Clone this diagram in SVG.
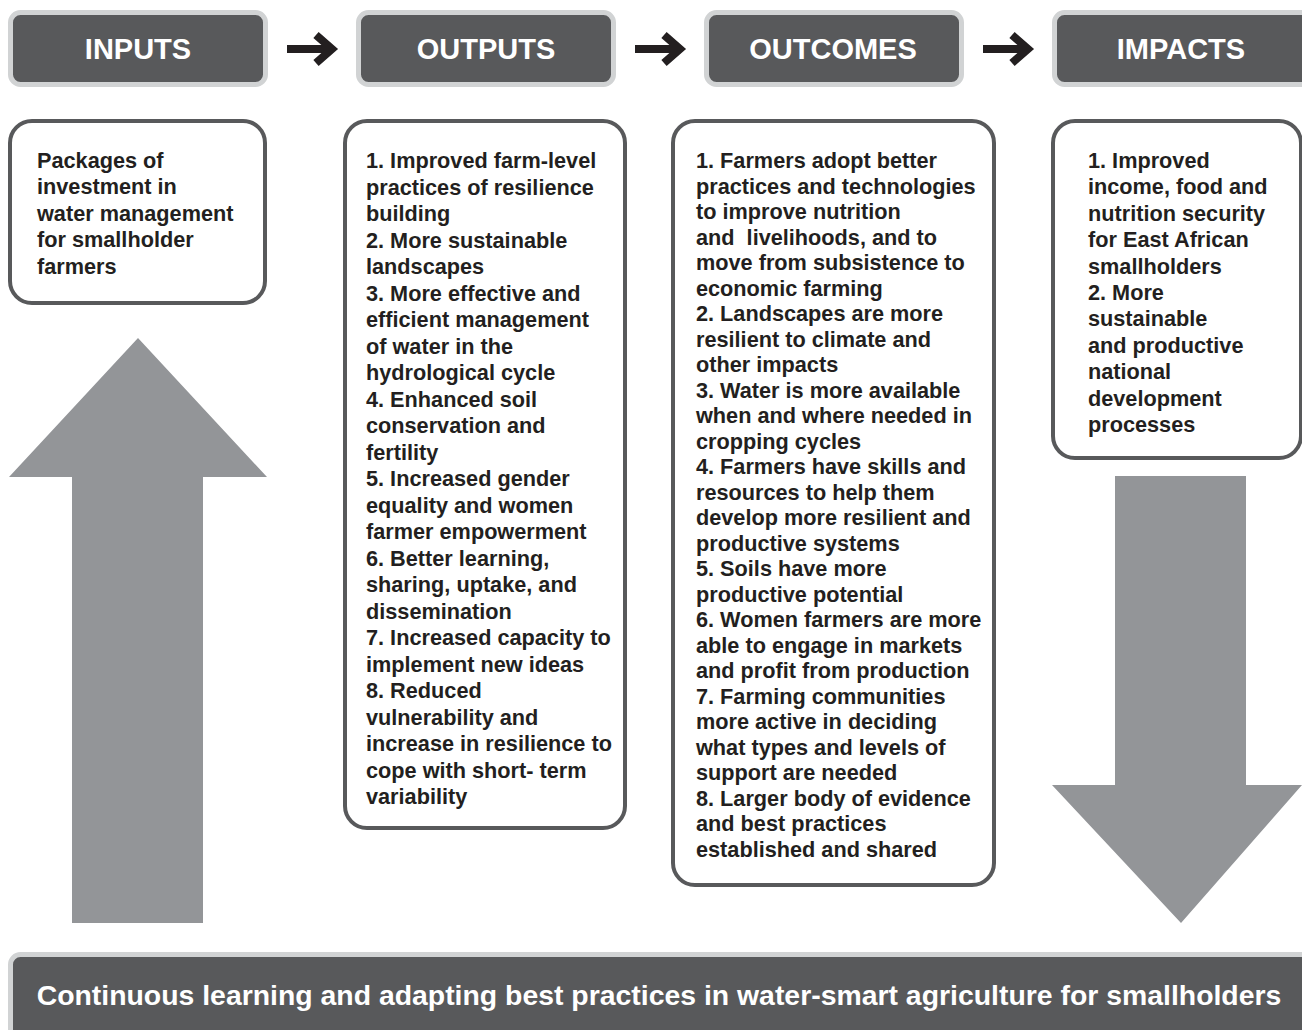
<svg xmlns="http://www.w3.org/2000/svg" width="1302" height="1030" viewBox="0 0 1302 1030">
<style>
.hdr{fill:#58595b;stroke:#d1d3d4;stroke-width:5}
.hdrtxt{font-family:"Liberation Sans",Arial,sans-serif;font-weight:bold;font-size:29px;fill:#ffffff;text-anchor:middle}
.box{fill:#ffffff;stroke:#58595b;stroke-width:4}
.body{font-family:"Liberation Sans",Arial,sans-serif;font-weight:bold;font-size:21.7px;fill:#231f20}
.big{fill:#939598}
.conn{fill:none;stroke:#231f20;stroke-width:8}
.foot{font-family:"Liberation Sans",Arial,sans-serif;font-weight:bold;font-size:28.4px;fill:#ffffff;text-anchor:middle}
</style>
<rect width="1302" height="1030" fill="#ffffff"/>
<g id="hdr-inputs">
<rect class="hdr" x="10.5" y="12.5" width="255" height="72" rx="10"/>
<text class="hdrtxt" x="138" y="58.5">INPUTS</text>
</g>
<g id="hdr-outputs">
<rect class="hdr" x="358.5" y="12.5" width="255" height="72" rx="10"/>
<text class="hdrtxt" x="486" y="58.5">OUTPUTS</text>
</g>
<g id="hdr-outcomes">
<rect class="hdr" x="706.5" y="12.5" width="255" height="72" rx="10"/>
<text class="hdrtxt" x="833" y="58.5">OUTCOMES</text>
</g>
<g id="hdr-impacts">
<rect class="hdr" x="1054.5" y="12.5" width="260" height="72" rx="10"/>
<text class="hdrtxt" x="1181" y="58.5">IMPACTS</text>
</g>
<g id="connectors">
<g class="conn">
<path d="M287,49 H329 M316,35 L332,49 L316,63"/>
<path d="M635,49 H677 M664,35 L680,49 L664,63"/>
<path d="M983,49 H1025 M1012,35 L1028,49 L1012,63"/>
</g>
<polygon class="big" points="138,338 267,477 203,477 203,923 72,923 72,477 9,477"/>
<polygon class="big" points="1115,476 1246,476 1246,785 1302,785 1181,923 1052,785 1115,785"/>
</g>
<g id="box-inputs">
<rect class="box" x="10" y="121" width="255" height="182" rx="22"/>
<text class="body">
<tspan x="37" y="168">Packages of</tspan>
<tspan x="37" y="194.4">investment in</tspan>
<tspan x="37" y="220.8">water management</tspan>
<tspan x="37" y="247.2">for smallholder</tspan>
<tspan x="37" y="273.6">farmers</tspan>
</text>
</g>
<g id="box-outputs">
<rect class="box" x="345" y="121" width="280" height="707" rx="22"/>
<text class="body">
<tspan x="366" y="168">1. Improved farm-level</tspan>
<tspan x="366" y="194.5">practices of resilience</tspan>
<tspan x="366" y="221">building</tspan>
<tspan x="366" y="247.5">2. More sustainable</tspan>
<tspan x="366" y="274">landscapes</tspan>
<tspan x="366" y="300.5">3. More effective and</tspan>
<tspan x="366" y="327">efficient management</tspan>
<tspan x="366" y="353.5">of water in the</tspan>
<tspan x="366" y="380">hydrological cycle</tspan>
<tspan x="366" y="406.5">4. Enhanced soil</tspan>
<tspan x="366" y="433">conservation and</tspan>
<tspan x="366" y="459.5">fertility</tspan>
<tspan x="366" y="486">5. Increased gender</tspan>
<tspan x="366" y="512.5">equality and women</tspan>
<tspan x="366" y="539">farmer empowerment</tspan>
<tspan x="366" y="565.5">6. Better learning,</tspan>
<tspan x="366" y="592">sharing, uptake, and</tspan>
<tspan x="366" y="618.5">dissemination</tspan>
<tspan x="366" y="645">7. Increased capacity to</tspan>
<tspan x="366" y="671.5">implement new ideas</tspan>
<tspan x="366" y="698">8. Reduced</tspan>
<tspan x="366" y="724.5">vulnerability and</tspan>
<tspan x="366" y="751">increase in resilience to</tspan>
<tspan x="366" y="777.5">cope with short- term</tspan>
<tspan x="366" y="804">variability</tspan>
</text>
</g>
<g id="box-outcomes">
<rect class="box" x="673" y="121" width="321" height="764" rx="22"/>
<text class="body" xml:space="preserve"><tspan x="696" y="168">1. Farmers adopt better</tspan><tspan x="696" y="193.5">practices and technologies</tspan><tspan x="696" y="219">to improve nutrition</tspan><tspan x="696" y="244.5">and  livelihoods, and to</tspan><tspan x="696" y="270">move from subsistence to</tspan><tspan x="696" y="295.5">economic farming</tspan><tspan x="696" y="321">2. Landscapes are more</tspan><tspan x="696" y="346.5">resilient to climate and</tspan><tspan x="696" y="372">other impacts</tspan><tspan x="696" y="397.5">3. Water is more available</tspan><tspan x="696" y="423">when and where needed in</tspan><tspan x="696" y="448.5">cropping cycles</tspan><tspan x="696" y="474">4. Farmers have skills and</tspan><tspan x="696" y="499.5">resources to help them</tspan><tspan x="696" y="525">develop more resilient and</tspan><tspan x="696" y="550.5">productive systems</tspan><tspan x="696" y="576">5. Soils have more</tspan><tspan x="696" y="601.5">productive potential</tspan><tspan x="696" y="627">6. Women farmers are more</tspan><tspan x="696" y="652.5">able to engage in markets</tspan><tspan x="696" y="678">and profit from production</tspan><tspan x="696" y="703.5">7. Farming communities</tspan><tspan x="696" y="729">more active in deciding</tspan><tspan x="696" y="754.5">what types and levels of</tspan><tspan x="696" y="780">support are needed</tspan><tspan x="696" y="805.5">8. Larger body of evidence</tspan><tspan x="696" y="831">and best practices</tspan><tspan x="696" y="856.5">established and shared</tspan></text>
</g>
<g id="box-impacts">
<rect class="box" x="1053" y="121" width="248" height="337" rx="22"/>
<text class="body">
<tspan x="1088" y="168">1. Improved</tspan>
<tspan x="1088" y="194.4">income, food and</tspan>
<tspan x="1088" y="220.8">nutrition security</tspan>
<tspan x="1088" y="247.2">for East African</tspan>
<tspan x="1088" y="273.6">smallholders</tspan>
<tspan x="1088" y="300">2. More</tspan>
<tspan x="1088" y="326.4">sustainable</tspan>
<tspan x="1088" y="352.8">and productive</tspan>
<tspan x="1088" y="379.2">national</tspan>
<tspan x="1088" y="405.6">development</tspan>
<tspan x="1088" y="432">processes</tspan>
</text>
</g>
<g id="footer">
<rect class="hdr" x="10.5" y="954.5" width="1310" height="90" rx="10"/>
<text class="foot" x="659" y="1005">Continuous learning and adapting best practices in water-smart agriculture for smallholders</text>
</g>
</svg>
